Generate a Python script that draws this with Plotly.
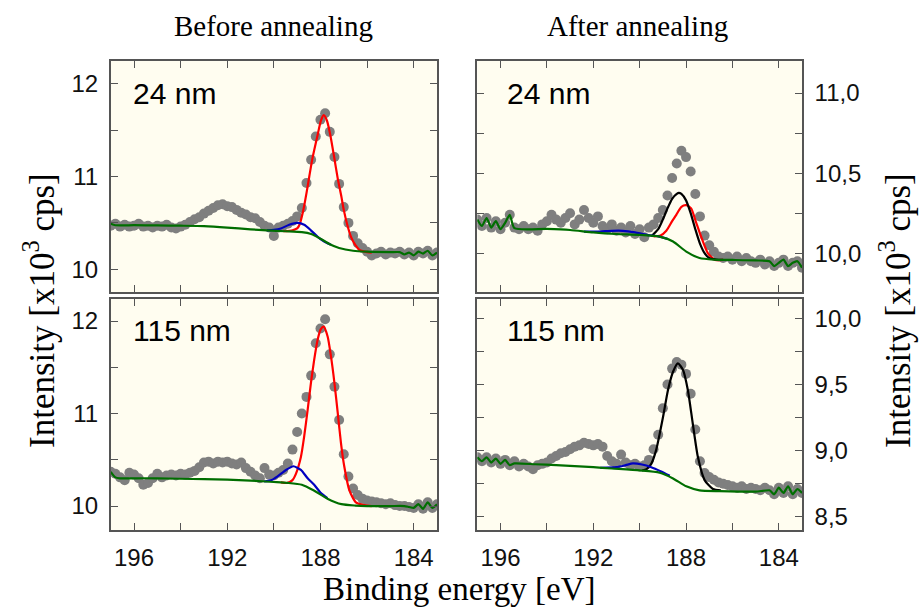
import plotly.graph_objects as go

# ---------------------------------------------------------------- data
# binding-energy grid of the measured points (eV)
be_grid = [197.0, 196.8, 196.6, 196.4, 196.2, 196.0, 195.8, 195.6, 195.4, 195.2,
           195.0, 194.8, 194.6, 194.4, 194.2, 194.0, 193.8, 193.6, 193.4, 193.2,
           193.0, 192.8, 192.6, 192.4, 192.2, 192.0, 191.8, 191.6, 191.4, 191.2,
           191.0, 190.8, 190.6, 190.4, 190.2, 190.0, 189.8, 189.6, 189.4, 189.2,
           189.0, 188.8, 188.6, 188.4, 188.2, 188.0, 187.8, 187.6, 187.4, 187.2,
           187.0, 186.8, 186.6, 186.4, 186.2, 186.0, 185.8, 185.6, 185.4, 185.2,
           185.0, 184.8, 184.6, 184.4, 184.2, 184.0, 183.8, 183.6, 183.4, 183.2,
           183.0]

# measured intensities (x10^3 cps)
pre24_pts = [10.47, 10.49, 10.46, 10.48, 10.46, 10.47, 10.49, 10.46, 10.47, 10.45,
             10.47, 10.46, 10.48, 10.45, 10.44, 10.46, 10.48, 10.51, 10.54, 10.56,
             10.60, 10.63, 10.66, 10.69, 10.70, 10.68, 10.67, 10.64, 10.61, 10.59,
             10.56, 10.55, 10.51, 10.47, 10.45, 10.36, 10.45, 10.47, 10.49, 10.52,
             10.57, 10.66, 10.93, 11.18, 11.43, 11.61, 11.68, 11.48, 11.21, 10.92,
             10.67, 10.50, 10.36, 10.28, 10.23, 10.19, 10.15, 10.17, 10.19, 10.16,
             10.18, 10.17, 10.19, 10.16, 10.18, 10.15, 10.19, 10.17, 10.20, 10.15,
             10.18]
pre115_pts = [10.37, 10.35, 10.31, 10.28, 10.36, 10.34, 10.30, 10.23, 10.25, 10.30,
              10.35, 10.31, 10.33, 10.34, 10.33, 10.35, 10.34, 10.36, 10.38, 10.42,
              10.47, 10.48, 10.46, 10.48, 10.47, 10.48, 10.46, 10.45, 10.47, 10.41,
              10.37, 10.33, 10.30, 10.41, 10.34, 10.33, 10.36, 10.39, 10.46, 10.61,
              10.80, 11.00, 11.18, 11.41, 11.76, 11.92, 12.02, 11.64, 11.29, 10.93,
              10.56, 10.32, 10.19, 10.12, 10.08, 10.06, 10.05, 10.04, 10.03, 10.02,
              10.03, 10.01, 10.00, 10.00, 9.99, 9.98, 10.02, 9.97, 10.04, 9.98,
              10.02]
post24_pts = [10.21, 10.17, 10.22, 10.16, 10.20, 10.15, 10.19, 10.24, 10.16, 10.15,
              10.17, 10.15, 10.16, 10.14, 10.18, 10.20, 10.24, 10.21, 10.19, 10.22,
              10.25, 10.18, 10.21, 10.27, 10.22, 10.19, 10.23, 10.17, 10.15, 10.18,
              10.14, 10.16, 10.13, 10.17, 10.12, 10.15, 10.10, 10.16, 10.18, 10.22,
              10.27, 10.36, 10.47, 10.56, 10.64, 10.60, 10.51, 10.37, 10.23, 10.11,
              10.05, 10.01, 9.98, 9.97, 9.98, 9.96, 9.98, 9.95, 9.97, 9.95,
              9.94, 9.96, 9.93, 9.95, 9.92, 9.94, 9.96, 9.92, 9.94, 9.95,
              9.91]
post115_pts = [8.95, 8.92, 8.95, 8.91, 8.94, 8.90, 8.93, 8.89, 8.92, 8.88,
               8.90, 8.88, 8.86, 8.89, 8.90, 8.91, 8.94, 8.96, 8.98, 8.99,
               9.01, 9.03, 9.04, 9.06, 9.05, 9.04, 9.05, 9.03, 8.96, 8.92,
               8.90, 8.97, 8.91, 8.89, 8.90, 8.88, 8.89, 8.93, 9.01, 9.12,
               9.32, 9.50, 9.62, 9.67, 9.65, 9.58, 9.43, 9.16, 8.92, 8.83,
               8.80, 8.78, 8.76, 8.75, 8.74, 8.73, 8.72, 8.73, 8.71, 8.72,
               8.71, 8.70, 8.72, 8.70, 8.67, 8.72, 8.68, 8.73, 8.67, 8.71,
               8.68]

# fitted components: main peak (red), second component (blue),
# background (green), total envelope (black)
pre24_main_e = [189.6, 189.2, 189.0, 188.9, 188.75, 188.6, 188.48, 188.34, 188.12, 187.98,
                187.86, 187.72, 187.58, 187.42, 187.26, 187.1, 187.0, 186.85, 186.69, 186.5,
                186.33, 186.1, 185.8]
pre24_main_i = [10.41, 10.42, 10.44, 10.48, 10.62, 10.82, 11.0, 11.2, 11.45, 11.6,
                11.66, 11.6, 11.45, 11.22, 10.98, 10.78, 10.64, 10.48, 10.35, 10.26,
                10.21, 10.19, 10.18]
pre24_side_e = [190.3, 190.0, 189.7, 189.34, 188.98, 188.7, 188.41, 188.12, 187.84, 187.55]
pre24_side_i = [10.42, 10.425, 10.44, 10.48, 10.50, 10.48, 10.42, 10.35, 10.30, 10.265]
pre24_bg_e = [197.0, 196.8, 196.0, 195.0, 194.0, 193.0, 192.0, 191.0, 190.3, 189.5,
              188.8, 188.4, 188.0, 187.6, 187.2, 186.6, 186.0, 185.0, 184.6, 184.4,
              184.2, 184.0, 183.8, 183.6, 183.4, 183.2, 183.0]
pre24_bg_i = [10.49, 10.475, 10.475, 10.473, 10.47, 10.465, 10.45, 10.43, 10.42, 10.41,
              10.40, 10.38, 10.33, 10.27, 10.23, 10.20, 10.19, 10.185, 10.185, 10.16,
              10.18, 10.15, 10.19, 10.17, 10.20, 10.15, 10.18]

pre115_main_e = [189.7, 189.41, 189.2, 189.05, 188.84, 188.7, 188.55, 188.41, 188.27, 188.12,
                 187.99, 187.86, 187.69, 187.55, 187.4, 187.26, 187.12, 186.98, 186.76, 186.48,
                 186.12, 185.8]
pre115_main_i = [10.255, 10.25, 10.28, 10.35, 10.53, 10.75, 11.04, 11.33, 11.58, 11.80,
                 11.91, 11.94, 11.83, 11.62, 11.33, 11.01, 10.68, 10.43, 10.17, 10.04,
                 10.01, 10.0]
pre115_side_e = [190.42, 190.1, 189.84, 189.48, 189.16, 188.84, 188.55, 188.27, 187.98, 187.7]
pre115_side_i = [10.265, 10.28, 10.32, 10.39, 10.43, 10.39, 10.30, 10.23, 10.14, 10.085]
pre115_bg_e = [197.0, 196.8, 196.6, 196.0, 195.0, 194.0, 193.0, 192.0, 191.0, 190.0,
               189.4, 188.8, 188.3, 187.7, 187.1, 186.5, 186.0, 185.0, 184.4, 184.2,
               184.0, 183.8, 183.6, 183.4, 183.2, 183.0]
pre115_bg_i = [10.37, 10.31, 10.30, 10.30, 10.30, 10.295, 10.29, 10.285, 10.275, 10.26,
               10.25, 10.23, 10.17, 10.08, 10.02, 10.005, 10.0, 10.0, 10.0, 9.99,
               9.98, 10.02, 9.97, 10.04, 9.98, 10.02]

post24_main_e = [189.4, 189.1, 188.85, 188.6, 188.42, 188.2, 187.99, 187.78, 187.56, 187.34,
                 187.06, 186.77, 186.4]
post24_main_i = [10.105, 10.11, 10.14, 10.20, 10.24, 10.29, 10.30, 10.28, 10.19, 10.10,
                 10.0, 9.96, 9.958]
post24_sum_e = [189.5, 189.2, 189.0, 188.8, 188.6, 188.4, 188.31, 188.2, 188.0, 187.8,
                187.6, 187.4, 187.2, 187.0, 186.7, 186.4]
post24_sum_i = [10.105, 10.15, 10.21, 10.28, 10.34, 10.37, 10.377, 10.37, 10.33, 10.25,
                10.15, 10.06, 10.0, 9.97, 9.96, 9.958]
post24_side_e = [192.4, 191.8, 191.2, 190.72, 190.2, 189.7, 189.2, 188.8]
post24_side_i = [10.135, 10.135, 10.14, 10.14, 10.13, 10.115, 10.105, 10.09]
post24_bg_e = [197.0, 196.8, 196.6, 196.4, 196.2, 196.0, 195.8, 195.6, 195.4, 194.0,
               193.0, 192.0, 191.0, 190.0, 189.14, 188.56, 187.99, 187.42, 186.8, 186.0,
               185.0, 184.4, 184.2, 184.0, 183.8, 183.6, 183.4, 183.2, 183.0]
post24_bg_i = [10.21, 10.17, 10.22, 10.16, 10.20, 10.15, 10.19, 10.24, 10.157, 10.152,
               10.145, 10.13, 10.12, 10.115, 10.104, 10.073, 10.01, 9.97, 9.96, 9.958,
               9.955, 9.95, 9.92, 9.94, 9.96, 9.92, 9.94, 9.95, 9.91]

post115_sum_e = [189.9, 189.7, 189.5, 189.29, 188.99, 188.78, 188.56, 188.35, 188.13, 187.92,
                 187.71, 187.49, 187.2, 186.84, 186.5]
post115_sum_i = [8.85, 8.86, 8.90, 9.004, 9.256, 9.457, 9.596, 9.659, 9.61, 9.457,
                 9.205, 8.953, 8.777, 8.71, 8.70]
post115_side_e = [191.7, 191.0, 190.6, 190.29, 189.9, 189.5, 189.1, 188.7]
post115_side_i = [8.87, 8.875, 8.89, 8.903, 8.895, 8.875, 8.845, 8.81]
post115_bg_e = [197.0, 196.8, 196.6, 196.4, 196.2, 196.0, 195.8, 195.6, 195.4, 194.5,
                193.6, 192.0, 191.2, 190.0, 189.14, 188.56, 187.99, 187.42, 186.55, 185.0,
                184.4, 184.2, 184.0, 183.8, 183.6, 183.4, 183.2, 183.0]
post115_bg_i = [8.95, 8.92, 8.95, 8.91, 8.94, 8.90, 8.93, 8.89, 8.903, 8.897,
                8.89, 8.875, 8.865, 8.85, 8.833, 8.79, 8.73, 8.70, 8.694, 8.69,
                8.70, 8.67, 8.72, 8.68, 8.73, 8.67, 8.71, 8.68]

panel_labels = ["24 nm", "24 nm", "115 nm", "115 nm"]
column_titles = ["Before annealing", "After annealing"]
x_title = "Binding energy [eV]"
y_title = "Intensity [x10<sup>3</sup> cps]"

x_ticks = [196, 192, 188, 184]
left_ticks = [10, 11, 12]
rt_ticks = [10.0, 10.5, 11.0]
rt_ticktext = ["10,0", "10,5", "11,0"]
rb_ticks = [8.5, 9.0, 9.5, 10.0]
rb_ticktext = ["8,5", "9,0", "9,5", "10,0"]

# ---------------------------------------------------------------- styling
W, H = 919, 609
FRAME = "#555555"
DOT = "#7f7f7f"
RED = "#ff0000"
BLUE = "#0000c0"
GREEN = "#006e00"
BLACK = "#000000"
SANS = "Liberation Sans, Arial, sans-serif"
SERIF = "Liberation Serif, Times New Roman, serif"

fig = go.Figure()


def add_panel(n, pts, curves):
    xa = "x" if n == 1 else f"x{n}"
    ya = "y" if n == 1 else f"y{n}"
    fig.add_trace(go.Scatter(x=be_grid, y=pts, mode="markers", xaxis=xa, yaxis=ya,
                             marker=dict(size=10, color=DOT), showlegend=False,
                             hoverinfo="skip"))
    for e, i, col in curves:
        fig.add_trace(go.Scatter(x=e, y=i, mode="lines", xaxis=xa, yaxis=ya,
                                 line=dict(color=col, width=2.2, shape="spline",
                                           smoothing=0.6),
                                 showlegend=False, hoverinfo="skip"))


add_panel(1, pre24_pts, [(pre24_main_e, pre24_main_i, RED),
                         (pre24_side_e, pre24_side_i, BLUE),
                         (pre24_bg_e, pre24_bg_i, GREEN)])
add_panel(2, post24_pts, [(post24_main_e, post24_main_i, RED),
                          (post24_sum_e, post24_sum_i, BLACK),
                          (post24_side_e, post24_side_i, BLUE),
                          (post24_bg_e, post24_bg_i, GREEN)])
add_panel(3, pre115_pts, [(pre115_main_e, pre115_main_i, RED),
                          (pre115_side_e, pre115_side_i, BLUE),
                          (pre115_bg_e, pre115_bg_i, GREEN)])
add_panel(4, post115_pts, [(post115_sum_e, post115_sum_i, BLACK),
                           (post115_side_e, post115_side_i, BLUE),
                           (post115_bg_e, post115_bg_i, GREEN)])


def px_x(a, b):
    return [a / W, b / W]


def px_y(top, bottom):
    return [(H - bottom) / H, (H - top) / H]


left_dom = px_x(110.7, 437.0)
right_dom = px_x(477.3, 802.0)
top_dom = px_y(61.0, 292.0)
bot_dom = px_y(299.3, 530.0)

frame = dict(showline=True, linecolor=FRAME, linewidth=1.6, mirror="ticks",
             ticks="inside", ticklen=7, tickwidth=1.3, tickcolor=FRAME,
             showgrid=False, zeroline=False,
             tickfont=dict(family=SANS, size=24, color="#111111"))


def xaxis(dom, anchor, labels):
    return dict(frame, domain=dom, anchor=anchor, range=[197, 183],
                tickmode="array", tickvals=x_ticks,
                minor=dict(ticks="inside", ticklen=7, tickwidth=1.3,
                           tickcolor=FRAME, tick0=184, dtick=2, showgrid=False),
                showticklabels=labels, ticklabelstandoff=5)


def yaxis(dom, anchor, rng, vals, text, side, minor_step):
    d = dict(frame, domain=dom, anchor=anchor, range=rng, side=side,
             tickmode="array", tickvals=vals,
             minor=dict(ticks="inside", ticklen=7, tickwidth=1.3,
                        tickcolor=FRAME, tick0=vals[0], dtick=minor_step,
                        showgrid=False),
             ticklabelstandoff=6)
    if text is not None:
        d["ticktext"] = text
    return d


fig.update_layout(
    width=W, height=H, margin=dict(l=0, r=0, t=0, b=0),
    paper_bgcolor="white", plot_bgcolor="#fffdf0",
    xaxis=xaxis(left_dom, "y", False),
    yaxis=yaxis(top_dom, "x", [9.756, 12.243], left_ticks, None, "left", 0.5),
    xaxis2=xaxis(right_dom, "y2", False),
    yaxis2=yaxis(top_dom, "x2", [9.758, 11.2], rt_ticks, rt_ticktext, "right", 0.25),
    xaxis3=xaxis(left_dom, "y3", True),
    yaxis3=yaxis(bot_dom, "x3", [9.741, 12.235], left_ticks, None, "left", 0.5),
    xaxis4=xaxis(right_dom, "y4", True),
    yaxis4=yaxis(bot_dom, "x4", [8.4, 10.144], rb_ticks, rb_ticktext, "right", 0.25),
)

ann = []
# panel thickness labels
for (xp, yp), txt in zip([(131, 93), (505, 93), (131, 330), (505, 330)], panel_labels):
    ann.append(dict(x=xp / W, y=(H - yp) / H, xref="paper", yref="paper",
                    xanchor="left", yanchor="middle", text=txt, showarrow=False,
                    font=dict(family=SANS, size=30, color="#000000")))
# column headings
for xc, txt in zip([273, 637], column_titles):
    ann.append(dict(x=xc / W, y=(H - 26) / H, xref="paper", yref="paper",
                    xanchor="center", yanchor="middle", text=txt, showarrow=False,
                    font=dict(family=SERIF, size=29, color="#000000")))
# shared axis titles
ann.append(dict(x=459 / W, y=(H - 589) / H, xref="paper", yref="paper",
                xanchor="center", yanchor="middle", text=x_title, showarrow=False,
                font=dict(family=SERIF, size=33, color="#000000")))
for xc in [40, 896]:
    ann.append(dict(x=xc / W, y=(H - 311) / H, xref="paper", yref="paper",
                    xanchor="center", yanchor="middle", text=y_title, showarrow=False,
                    textangle=-90, font=dict(family=SERIF, size=35, color="#000000")))
fig.update_layout(annotations=ann)

fig.write_html("out.html")
